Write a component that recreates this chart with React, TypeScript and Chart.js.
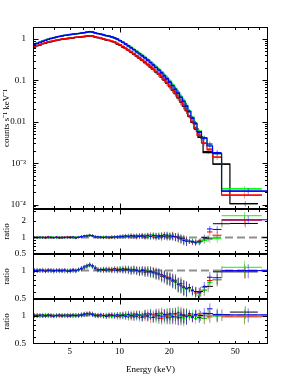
import { useEffect, useRef } from 'react';
import { Chart, registerables } from 'chart.js';
Chart.register(...registerables);

const FONT = "'Liberation Serif', 'Times New Roman', Times, serif";

// ---------- energy grid (keV), shared low-energy bins ----------
const energyEdges = [3.00,3.12,3.24,3.37,3.50,3.64,3.78,3.93,4.08,4.24,4.41,4.58,4.76,4.95,5.14,5.34,5.55,5.77,6.00,6.23,6.48,6.73,7.00,7.27,7.56,7.85,8.16,8.48,8.81,9.16,9.52,9.89,10.28,10.68,11.10,11.54,11.99,12.46,12.95,13.46,13.99,14.54,15.11,15.70,16.32,16.96,17.62,18.32,19.03,19.78,20.56,21.37,22.21,23.08,23.98,24.92,25.90];
const relErr = [0.05,0.05,0.05,0.05,0.05,0.05,0.05,0.05,0.05,0.05,0.05,0.05,0.05,0.05,0.05,0.05,0.05,0.055,0.055,0.055,0.055,0.055,0.055,0.055,0.055,0.06,0.06,0.06,0.065,0.065,0.07,0.07,0.075,0.08,0.085,0.09,0.09,0.095,0.10,0.10,0.11,0.11,0.12,0.12,0.13,0.13,0.14,0.14,0.15,0.15,0.16,0.16,0.17,0.17,0.18,0.18];

// ---------- spectra (counts s^-1 keV^-1) ----------
const countsBlack = [0.64,0.69,0.72,0.77,0.79,0.84,0.86,0.90,0.92,0.96,0.98,1.01,1.02,1.05,1.06,1.09,1.10,1.13,1.14,1.18,1.19,1.17,1.11,1.08,1.03,1.00,0.95,0.92,0.87,0.83,0.76,0.71,0.64,0.59,0.53,0.48,0.43,0.385,0.34,0.305,0.27,0.24,0.21,0.184,0.160,0.139,0.118,0.101,0.085,0.071,0.058,0.048,0.038,0.030,0.024,0.0185];
const countsRed = [0.66,0.70,0.74,0.78,0.81,0.85,0.88,0.91,0.94,0.97,1.00,1.02,1.04,1.06,1.08,1.10,1.12,1.14,1.16,1.19,1.21,1.18,1.13,1.09,1.05,1.01,0.97,0.93,0.89,0.84,0.78,0.72,0.66,0.60,0.54,0.49,0.44,0.39,0.35,0.31,0.28,0.245,0.215,0.188,0.164,0.142,0.121,0.103,0.087,0.073,0.060,0.049,0.039,0.031,0.025,0.019];
const countsGreen = [0.72,0.79,0.83,0.89,0.93,0.99,1.02,1.08,1.11,1.16,1.18,1.23,1.24,1.29,1.30,1.34,1.35,1.40,1.41,1.47,1.49,1.48,1.39,1.36,1.30,1.27,1.20,1.18,1.11,1.07,0.99,0.92,0.84,0.77,0.69,0.63,0.56,0.51,0.45,0.41,0.36,0.32,0.285,0.245,0.215,0.186,0.160,0.135,0.115,0.096,0.079,0.064,0.052,0.041,0.033,0.025];
const countsBlue = [0.73,0.78,0.83,0.88,0.93,0.98,1.03,1.07,1.11,1.15,1.19,1.22,1.25,1.28,1.31,1.33,1.36,1.39,1.42,1.46,1.50,1.47,1.40,1.35,1.31,1.26,1.21,1.17,1.12,1.06,0.99,0.91,0.83,0.75,0.68,0.61,0.55,0.49,0.44,0.39,0.35,0.31,0.27,0.235,0.205,0.178,0.152,0.129,0.109,0.091,0.075,0.061,0.049,0.039,0.031,0.024];

// ---------- high-energy (grouped) bins per spectrum ----------
const hiEdgesBlack = [25.9,27.0,28.2,29.8,32.0,36.7,46.5,68.6];
const hiEdgesRed = [25.9,27.0,28.2,29.4,31.3,33.8,36.5,41.4,72.5];
const hiEdgesGreen = [25.9,27.0,28.2,29.4,31.3,33.8,36.5,41.4,72.5];
const hiEdgesBlue = [25.9,27.0,28.2,29.4,31.3,33.8,36.5,41.4,78.6];
const hiModelBlack = [0.0135,0.0097,0.0068,0.0042,0.0018,0.00095,0.000105];
const hiModelRed = [0.0140,0.0100,0.0072,0.0047,0.0031,0.0021,0.0014,0.000168];
const hiModelGreen = [0.0180,0.0130,0.0093,0.0060,0.0041,0.0027,0.0017,0.00024];
const hiModelBlue = [0.0175,0.0125,0.0090,0.0058,0.0040,0.0026,0.0017,0.00021];
const hiDataBlack = [0.0133,0.0098,0.0066,0.0043,0.0019,0.00095,0.000105];
const hiDataRed = [0.0138,0.0102,0.0070,0.0048,0.0030,0.0022,0.0014,0.000168];
const hiDataGreen = [0.0185,0.0128,0.0095,0.0058,0.0040,0.0026,0.0017,0.00024];
const hiDataBlue = [0.0180,0.0122,0.0093,0.0055,0.0041,0.0029,0.0018,0.00021];
const hiErr = [0.10,0.11,0.12,0.12,0.13,0.14,0.15,0.17];

// ---------- ratio panels (data / model) ----------
// panel A
const ratioABlack = [1.01,0.99,1.00,1.02,0.98,1.00,1.01,0.99,1.00,0.98,1.01,1.00,0.99,1.02,1.00,0.98,1.02,1.02,1.06,1.06,1.10,1.06,1.04,1.00,1.02,0.99,1.01,1.00,1.03,0.99,1.02,1.01,1.06,1.03,1.07,1.04,1.08,1.03,1.09,1.05,1.02,1.10,1.04,1.08,1.01,1.09,1.05,1.12,1.03,1.07,1.10,1.02,1.05,0.95,0.95,0.87];
const ratioARed = [0.99,1.02,1.00,0.99,1.01,1.03,0.99,1.00,1.02,1.00,0.98,1.01,1.03,0.99,1.01,1.00,1.00,1.04,1.05,1.08,1.08,1.09,1.02,1.03,0.99,1.02,1.00,0.98,1.02,1.04,1.00,1.05,1.03,1.08,1.02,1.09,1.04,1.01,1.07,1.10,1.05,1.03,1.11,1.02,1.08,1.04,1.00,1.09,1.06,1.03,1.08,1.04,0.97,1.00,0.90,0.91];
const ratioAGreen = [1.00,1.01,0.98,1.01,1.00,0.99,1.02,1.01,0.98,1.01,1.00,0.99,1.01,1.00,0.98,1.01,1.03,1.03,1.04,1.08,1.10,1.07,1.05,1.01,1.00,1.03,1.01,0.99,1.01,1.00,1.04,1.02,1.07,1.04,1.09,1.06,1.03,1.10,1.05,1.08,1.09,1.04,1.07,1.12,1.05,1.03,1.10,1.06,1.11,1.04,1.06,1.00,1.01,0.92,0.91,0.86];
const ratioABlue = [1.00,1.00,1.01,0.99,1.00,1.01,1.00,0.99,1.01,1.00,0.99,1.00,1.01,1.00,1.02,0.99,1.01,1.04,1.06,1.07,1.09,1.08,1.03,1.02,1.01,1.00,1.02,1.01,1.00,1.02,1.03,1.05,1.04,1.06,1.05,1.08,1.05,1.07,1.04,1.09,1.06,1.08,1.05,1.09,1.07,1.04,1.08,1.05,1.10,1.06,1.04,1.03,0.99,0.94,0.88,0.85];
const hiRatioABlack = [0.85,0.83,0.82,0.86,0.97,1.78,1.80];
const hiRatioARed = [0.84,0.81,0.83,0.86,0.90,1.26,1.10,2.06];
const hiRatioAGreen = [0.85,0.87,0.82,0.80,0.88,0.92,0.95,2.49];
const hiRatioABlue = [0.86,0.84,0.80,0.83,1.00,1.43,1.40,2.10];
// panel B
const ratioBBlack = [1.01,0.99,1.00,1.02,0.99,1.01,1.00,0.98,1.01,1.00,0.99,1.01,1.00,0.98,1.02,1.00,1.03,1.04,1.09,1.11,1.16,1.10,1.08,1.01,1.03,1.00,1.04,1.02,1.01,1.05,1.00,1.03,1.05,1.01,1.04,0.99,1.03,1.01,0.97,1.02,0.96,1.00,0.95,0.97,0.92,0.94,0.87,0.89,0.82,0.84,0.77,0.79,0.71,0.73,0.66,0.65];
const ratioBRed = [0.99,1.02,1.01,0.99,1.00,1.02,0.99,1.01,1.00,0.98,1.01,1.00,0.98,1.01,1.00,0.99,1.02,1.06,1.07,1.13,1.14,1.13,1.05,1.03,1.00,1.02,1.01,1.04,1.00,1.03,1.04,1.01,1.02,1.05,1.00,1.03,0.99,1.02,1.00,0.97,1.01,0.97,1.00,0.94,0.96,0.90,0.91,0.85,0.86,0.80,0.81,0.75,0.72,0.70,0.67,0.64];
const ratioBGreen = [1.00,1.01,0.99,1.01,1.02,0.99,1.01,1.00,0.99,1.02,1.00,0.98,1.01,1.00,0.99,1.01,1.01,1.05,1.08,1.10,1.15,1.11,1.07,1.02,1.01,1.04,1.02,1.00,1.03,1.02,1.03,1.05,1.00,1.04,1.02,1.00,1.04,0.98,1.01,0.99,0.98,1.01,0.97,0.96,0.93,0.92,0.89,0.87,0.84,0.81,0.78,0.75,0.70,0.69,0.65,0.63];
const ratioBBlue = [1.00,1.00,1.01,1.00,0.99,1.00,1.01,1.00,1.00,1.01,1.00,1.01,0.99,1.00,1.01,1.00,1.02,1.05,1.09,1.12,1.15,1.12,1.06,1.02,1.02,1.03,1.01,1.02,1.03,1.01,1.02,1.03,1.01,1.03,1.02,1.01,1.02,1.00,0.99,1.00,0.99,0.97,0.98,0.96,0.94,0.92,0.90,0.87,0.84,0.82,0.79,0.76,0.72,0.69,0.67,0.65];
const hiRatioBBlack = [0.66,0.62,0.60,0.60,0.68,0.97,0.97];
const hiRatioBRed = [0.65,0.61,0.58,0.59,0.62,0.785,0.80,1.00];
const hiRatioBGreen = [0.64,0.60,0.57,0.55,0.62,0.75,0.80,1.085];
const hiRatioBBlue = [0.66,0.62,0.60,0.58,0.67,0.85,0.84,1.00];
// panel C
const ratioCBlack = [1.01,0.99,1.00,1.02,0.99,1.00,1.01,0.99,1.00,1.01,0.99,1.00,1.02,0.99,1.01,1.00,0.99,1.01,1.03,1.04,1.06,1.02,1.01,0.99,1.01,1.00,0.98,1.02,1.00,1.01,0.98,1.02,1.00,1.03,0.97,1.01,1.04,0.98,1.02,0.96,1.03,0.99,1.05,0.96,1.02,0.94,1.06,0.99,1.03,0.95,1.04,0.97,1.07,0.95,1.02,0.99];
const ratioCRed = [0.99,1.02,1.00,0.99,1.01,1.02,0.99,1.00,1.01,0.99,1.01,1.00,0.99,1.02,1.00,1.01,1.02,1.02,1.05,1.03,1.04,1.05,1.00,1.02,0.99,1.01,1.00,0.99,1.02,1.00,1.01,0.97,1.03,1.00,1.02,0.97,1.00,1.04,0.96,1.01,0.98,1.05,0.95,1.02,0.99,1.06,0.93,1.03,0.98,1.05,0.96,1.02,0.94,1.06,0.97,1.01];
const ratioCGreen = [1.00,1.01,0.99,1.00,1.02,0.99,1.00,1.01,0.99,1.00,1.01,0.99,1.00,1.01,0.99,1.02,1.00,1.03,1.02,1.04,1.05,1.03,1.02,1.00,1.01,0.99,1.02,1.00,0.98,1.02,1.00,1.03,0.98,1.02,0.99,1.04,0.97,1.01,1.03,0.98,1.02,0.96,1.04,1.00,0.95,1.03,1.01,0.94,1.05,0.97,1.03,0.95,1.04,0.98,0.93,1.02];
const ratioCBlue = [1.00,1.00,1.01,0.99,1.00,1.01,1.00,0.99,1.00,1.01,1.00,1.01,0.99,1.00,1.01,1.00,1.01,1.02,1.03,1.05,1.04,1.03,1.01,1.00,1.02,1.00,0.99,1.01,1.01,0.99,1.02,1.00,1.01,0.98,1.03,1.00,0.97,1.02,1.01,0.97,1.04,0.99,1.02,0.96,1.05,1.00,0.97,1.03,0.95,1.04,0.98,1.05,0.96,1.02,1.00,0.97];
const hiRatioCBlack = [1.00,0.96,1.02,1.00,1.05,1.02,1.09];
const hiRatioCRed = [1.02,0.95,1.01,1.04,0.93,0.97,1.00,0.97];
const hiRatioCGreen = [0.98,1.04,0.93,0.97,0.94,1.00,0.99,1.00];
const hiRatioCBlue = [1.05,0.97,1.03,0.95,1.06,1.18,1.03,1.02];

// ---------- axes ----------
const xRange = [3, 79];
const xLabelTicks = [5, 10, 20, 50];
const xMajorTicks = [10];
const xMinorTicks = [3, 4, 5, 6, 7, 8, 9, 20, 30, 40, 50, 60, 70];
const mainYRange = [7.8e-5, 1.95];
const mainYLabels: [number, string][] = [[1, '1'], [0.1, '0.1'], [0.01, '0.01'], [0.001, '10⁻³'], [0.0001, '10⁻⁴']];
const mainYMajor = [1e-4, 1e-3, 1e-2, 0.1, 1];
const minorMult = [2, 3, 4, 5, 6, 7, 8, 9];
const ratioRanges = [[0.5, 3.3], [0.5, 1.5], [0.5, 1.5]];
const ratioLabels: [number, string][][] = [[[2, '2'], [1, '1'], [0.5, '0.5']], [[1, '1'], [0.5, '0.5']], [[1, '1'], [0.5, '0.5']]];
const ratioMajor = [1];
const ratioMinor = [0.5, 0.6, 0.7, 0.8, 0.9, 2, 3];

const mainYMinor: number[] = [];
mainYMajor.concat([1e-5]).forEach(d => minorMult.forEach(m => mainYMinor.push(d * m)));

type Cross = { lo: number; hi: number; v: number; e: number };

const series = [
  { color: '#000000', err: 'rgba(0,0,0,0.45)', counts: countsBlack, hiEdges: hiEdgesBlack, hiModel: hiModelBlack, hiData: hiDataBlack, ratios: [ratioABlack, ratioBBlack, ratioCBlack], hiRatios: [hiRatioABlack, hiRatioBBlack, hiRatioCBlack] },
  { color: '#ff0000', err: 'rgba(255,0,0,0.45)', counts: countsRed, hiEdges: hiEdgesRed, hiModel: hiModelRed, hiData: hiDataRed, ratios: [ratioARed, ratioBRed, ratioCRed], hiRatios: [hiRatioARed, hiRatioBRed, hiRatioCRed] },
  { color: '#00ff00', err: 'rgba(0,230,0,0.5)', counts: countsGreen, hiEdges: hiEdgesGreen, hiModel: hiModelGreen, hiData: hiDataGreen, ratios: [ratioAGreen, ratioBGreen, ratioCGreen], hiRatios: [hiRatioAGreen, hiRatioBGreen, hiRatioCGreen] },
  { color: '#0000ff', err: 'rgba(0,0,255,0.5)', counts: countsBlue, hiEdges: hiEdgesBlue, hiModel: hiModelBlue, hiData: hiDataBlue, ratios: [ratioABlue, ratioBBlue, ratioCBlue], hiRatios: [hiRatioABlue, hiRatioBBlue, hiRatioCBlue] },
];

function crossList(low: number[], hiEdges: number[], hiVals: number[]): Cross[] {
  const out: Cross[] = [];
  low.forEach((v, i) => out.push({ lo: energyEdges[i], hi: energyEdges[i + 1], v, e: relErr[i] }));
  hiVals.forEach((v, j) => out.push({ lo: hiEdges[j], hi: hiEdges[j + 1], v, e: hiErr[j] }));
  return out;
}
function stepPoints(low: number[], hiEdges: number[], hiVals: number[]) {
  const pts: { x: number; y: number }[] = [];
  low.forEach((v, i) => { pts.push({ x: energyEdges[i], y: v }, { x: energyEdges[i + 1], y: v }); });
  hiVals.forEach((v, j) => { pts.push({ x: hiEdges[j], y: v }, { x: hiEdges[j + 1], y: v }); });
  return pts;
}

const crossPlugin = {
  id: 'crosses',
  afterDatasetDraw(chart: any, args: any) {
    const ds = chart.data.datasets[args.index];
    const list: Cross[] | undefined = ds.crosses;
    if (!list) return;
    const { ctx, chartArea: a } = chart;
    const xs = chart.scales.x, ys = chart.scales.y;
    ctx.save();
    ctx.beginPath();
    ctx.rect(a.left, a.top, a.right - a.left, a.bottom - a.top);
    ctx.clip();
    ctx.lineWidth = 1;
    ctx.strokeStyle = ds.errColor;
    for (const c of list) {
      const xc = xs.getPixelForValue((c.lo + c.hi) / 2);
      ctx.beginPath();
      ctx.moveTo(xc, ys.getPixelForValue(c.v * (1 + c.e)));
      ctx.lineTo(xc, ys.getPixelForValue(c.v * (1 - c.e)));
      ctx.stroke();
    }
    ctx.strokeStyle = ds.barColor;
    ctx.lineWidth = ds.barWidth;
    for (const c of list) {
      const y0 = ys.getPixelForValue(c.v);
      ctx.beginPath();
      ctx.moveTo(xs.getPixelForValue(c.lo), y0);
      ctx.lineTo(xs.getPixelForValue(c.hi), y0);
      ctx.stroke();
    }
    ctx.restore();
  },
};

const framePlugin = {
  id: 'frame',
  afterDraw(chart: any, _a: any, o: any) {
    const { ctx, chartArea: a } = chart;
    const xs = chart.scales.x, ys = chart.scales.y;
    const L = Math.round(a.left) + 0.5, R = Math.round(a.right) - 0.5;
    const T = Math.round(a.top) + 0.5, B = Math.round(a.bottom) - 0.5;
    ctx.save();
    ctx.strokeStyle = '#000';
    ctx.lineWidth = 1;
    ctx.strokeRect(L, T, R - L, B - T);
    const line = (x1: number, y1: number, x2: number, y2: number) => {
      ctx.beginPath(); ctx.moveTo(x1, y1); ctx.lineTo(x2, y2); ctx.stroke();
    };
    const yt = (vals: number[], len: number) => vals.forEach(v => {
      if (v <= ys.min || v >= ys.max) return;
      const p = Math.round(ys.getPixelForValue(v)) + 0.5;
      line(L, p, L + len, p); line(R, p, R - len, p);
    });
    const xt = (vals: number[], len: number) => vals.forEach(v => {
      if (v <= xs.min || v >= xs.max) return;
      const p = Math.round(xs.getPixelForValue(v)) + 0.5;
      line(p, T, p, T + len); line(p, B, p, B - len);
    });
    yt(o.yMajor, 5); yt(o.yMinor, 2.5);
    xt(xMajorTicks, 5); xt(xMinorTicks, 2.5);
    ctx.restore();
  },
};

function labelFor(v: number, labels: [number, string][]) {
  const f = labels.find(([k]) => Math.abs(Math.log10(v / k)) < 1e-6);
  return f ? f[1] : '';
}

function xScale(bottom: boolean) {
  return {
    type: 'logarithmic', min: xRange[0], max: xRange[1], display: bottom,
    grid: { display: false, drawTicks: false }, border: { display: false },
    ticks: { autoSkip: false, maxRotation: 0, padding: 2, color: '#000', font: { family: FONT, size: 9 }, callback: (v: number) => String(v) },
    afterBuildTicks: (s: any) => { s.ticks = xLabelTicks.map(v => ({ value: v })); },
    afterFit: (s: any) => { if (bottom) s.height = 46; s.paddingLeft = 0; s.paddingRight = 0; },
    title: { display: bottom, text: 'Energy (keV)', color: '#000', font: { family: FONT, size: 9 }, padding: { top: 0, bottom: 15 } },
  };
}
function yScale(range: number[], labels: [number, string][], title: string) {
  return {
    type: 'logarithmic', min: range[0], max: range[1], position: 'left',
    grid: { display: false, drawTicks: false }, border: { display: false },
    ticks: { autoSkip: false, padding: 7, color: '#000', font: { family: FONT, size: 9 }, callback: (v: number) => labelFor(v, labels) },
    afterBuildTicks: (s: any) => { s.ticks = labels.map(([v]) => ({ value: v })).reverse(); },
    afterFit: (s: any) => { s.width = 33; s.paddingTop = 0; s.paddingBottom = 0; },
    title: { display: true, text: title, color: '#000', font: { family: FONT, size: 9 }, padding: { top: 1, bottom: 0 } },
  };
}

function mainConfig(): any {
  const datasets = [...series].reverse().map(s => ({
    data: stepPoints(s.counts, s.hiEdges, s.hiModel),
    showLine: true, borderColor: s.color, borderWidth: 1.2, pointRadius: 0, fill: false,
    crosses: crossList(s.counts, s.hiEdges, s.hiData), errColor: s.err, barColor: s.color, barWidth: 1.2,
  }));
  return {
    type: 'scatter',
    data: { datasets },
    options: {
      animation: false, responsive: false, events: [],
      layout: { padding: { top: 27, bottom: 5, left: 0, right: 19 } },
      plugins: { legend: { display: false }, tooltip: { enabled: false }, frame: { yMajor: mainYMajor, yMinor: mainYMinor } },
      scales: { x: xScale(false), y: yScale(mainYRange, mainYLabels, 'counts s⁻¹ keV⁻¹') },
    },
    plugins: [crossPlugin, framePlugin],
  };
}

function ratioConfig(p: number, bottom: boolean): any {
  const datasets: any[] = [...series].reverse().map(s => {
    const crosses = crossList(s.ratios[p], s.hiEdges, s.hiRatios[p]);
    return {
      data: crosses.map(c => ({ x: (c.lo + c.hi) / 2, y: c.v })),
      showLine: false, pointRadius: 0, borderColor: s.color,
      crosses, errColor: s.err, barColor: s.color, barWidth: 1,
    };
  });
  datasets.push({
    data: [{ x: xRange[0], y: 1 }, { x: xRange[1], y: 1 }],
    showLine: true, borderColor: '#8f8f8f', borderWidth: 2, borderDash: [8, 4], pointRadius: 0, fill: false,
  });
  return {
    type: 'scatter',
    data: { datasets },
    options: {
      animation: false, responsive: false, events: [],
      layout: { padding: { top: 9, bottom: bottom ? 0 : 8, left: 0, right: 19 } },
      plugins: { legend: { display: false }, tooltip: { enabled: false }, frame: { yMajor: ratioMajor, yMinor: ratioMinor } },
      scales: { x: xScale(bottom), y: yScale(ratioRanges[p], ratioLabels[p], 'ratio') },
    },
    plugins: [crossPlugin, framePlugin],
  };
}

export default function App() {
  const r1 = useRef<HTMLCanvasElement>(null);
  const r2 = useRef<HTMLCanvasElement>(null);
  const r3 = useRef<HTMLCanvasElement>(null);
  const r4 = useRef<HTMLCanvasElement>(null);
  useEffect(() => {
    Chart.defaults.font.family = FONT;
    const charts = [
      new Chart(r1.current!, mainConfig()),
      new Chart(r2.current!, ratioConfig(0, false)),
      new Chart(r3.current!, ratioConfig(1, false)),
      new Chart(r4.current!, ratioConfig(2, true)),
    ];
    return () => charts.forEach(c => c.destroy());
  }, []);
  const cs = (top: number): any => ({ position: 'absolute', left: 0, top });
  return (
    <div style={{ position: 'absolute', left: 0, top: 0, width: 287, height: 390, background: '#fff' }}>
      <canvas ref={r1} width={287} height={214} style={cs(0)} />
      <canvas ref={r2} width={287} height={62} style={cs(200)} />
      <canvas ref={r3} width={287} height={62} style={cs(245)} />
      <canvas ref={r4} width={287} height={100} style={cs(290)} />
    </div>
  );
}
